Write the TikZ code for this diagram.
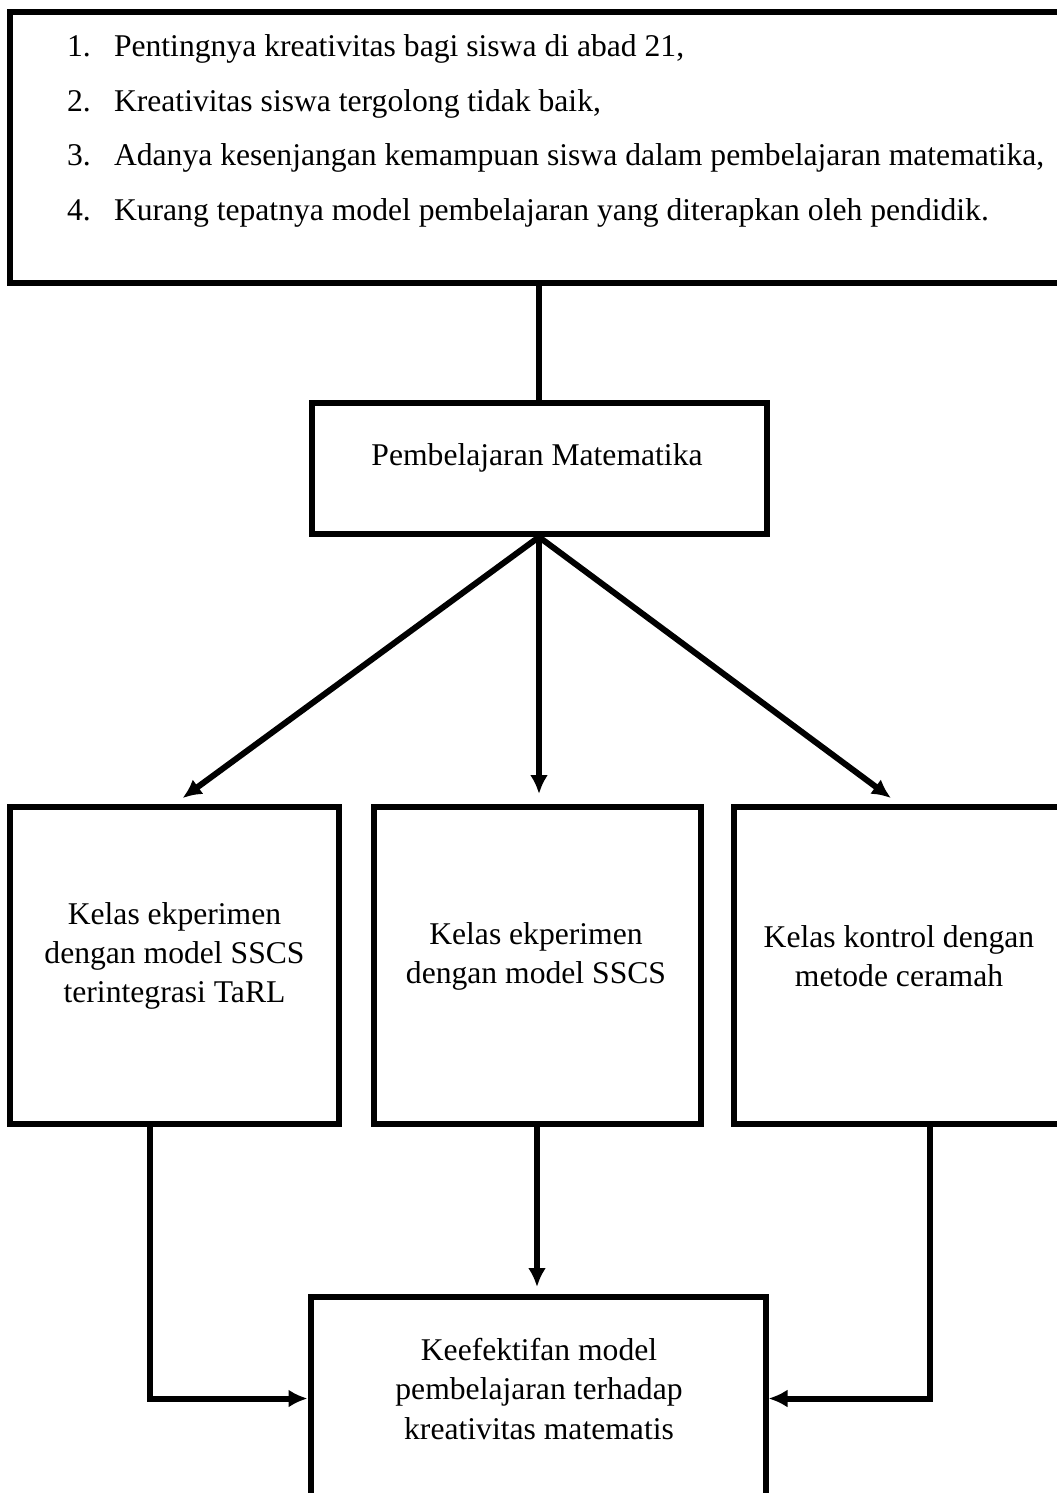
\documentclass[tikz,border=0pt]{standalone}
\usepackage{fontspec}
\setmainfont{Liberation Serif}
\usetikzlibrary{arrows.meta}
\tikzset{>={Latex[length=3.8mm, width=3.6mm]}}
\tikzset{kotak/.style={draw, rectangle, inner sep=0pt}}
\tikzset{teks/.style={align=center, inner sep=0pt, font=\fontsize{18}{22.2}\selectfont}}

\begin{document}
\begin{tikzpicture}[line width=1.2mm]
    \useasboundingbox(0, 0)rectangle(21.14, -29.86);
    \clip(0, 0)rectangle(21.14, -29.86);
    % kotak masalah
    \node[kotak, minimum width=21.2cm, minimum height=5.42cm](masalah)at(10.8, -2.95){};
    \foreach \i/\isi in {1/{Pentingnya kreativitas bagi siswa di abad 21,},
        2/{Kreativitas siswa tergolong tidak baik,},
        3/{Adanya kesenjangan kemampuan siswa dalam pembelajaran matematika,},
        4/{Kurang tepatnya model pembelajaran yang diterapkan oleh pendidik.}}{
        \node[teks, anchor=base west](no\i)at(1.28, {-1.14-1.087*(\i-1)}){\i.};
        \node[teks, anchor=base west](butir\i)at(2.22, {-1.14-1.087*(\i-1)}){\isi};
    }
    \node[kotak, minimum width=9.1cm, minimum height=2.62cm](pm)at(10.78, -9.37){};
    \node[teks](pmteks)at(10.74, -9.16){Pembelajaran Matematika};
    \draw(pm.north |- masalah.south)--(pm.north);
    % tiga kelas
    \node[kotak, minimum width=6.58cm, minimum height=6.34cm](kelasA)at(3.49, -19.31){};
    \node[kotak, minimum width=6.54cm, minimum height=6.34cm](kelasB)at(10.74, -19.31){};
    \node[kotak, minimum width=6.6cm, minimum height=6.34cm](kelasC)at(17.98, -19.31){};
    \node[teks](kelasAteks)at(3.49, -19.12){Kelas ekperimen\\dengan model SSCS\\terintegrasi TaRL};
    \node[teks](kelasBteks)at(10.72, -19.12){Kelas ekperimen\\dengan model SSCS};
    \node[teks](kelasCteks)at(17.98, -19.12){Kelas kontrol dengan\\metode ceramah};
    \draw[->, shorten >=2mm](pm.south)--(kelasA.north);
    \draw[->, shorten >=2mm](pm.south)--(pm.south |- kelasB.north);
    \draw[->, shorten >=2mm](pm.south)--(kelasC.north);
    % hasil
    \node[kotak, minimum width=9.1cm, minimum height=4.06cm](hasil)at(10.76, -27.97){};
    \node[teks](hasilteks)at(10.78, -27.78){Keefektifan model\\pembelajaran terhadap\\kreativitas matematis};
    \draw[->]([xshift=-4.9mm]kelasA.south)|-(hasil.west);
    \draw[->, shorten >=1.4mm](kelasB.south)--(kelasB.south |- hasil.north);
    \draw[->]([xshift=6.2mm]kelasC.south)|-(hasil.east);
\end{tikzpicture}
\end{document}
